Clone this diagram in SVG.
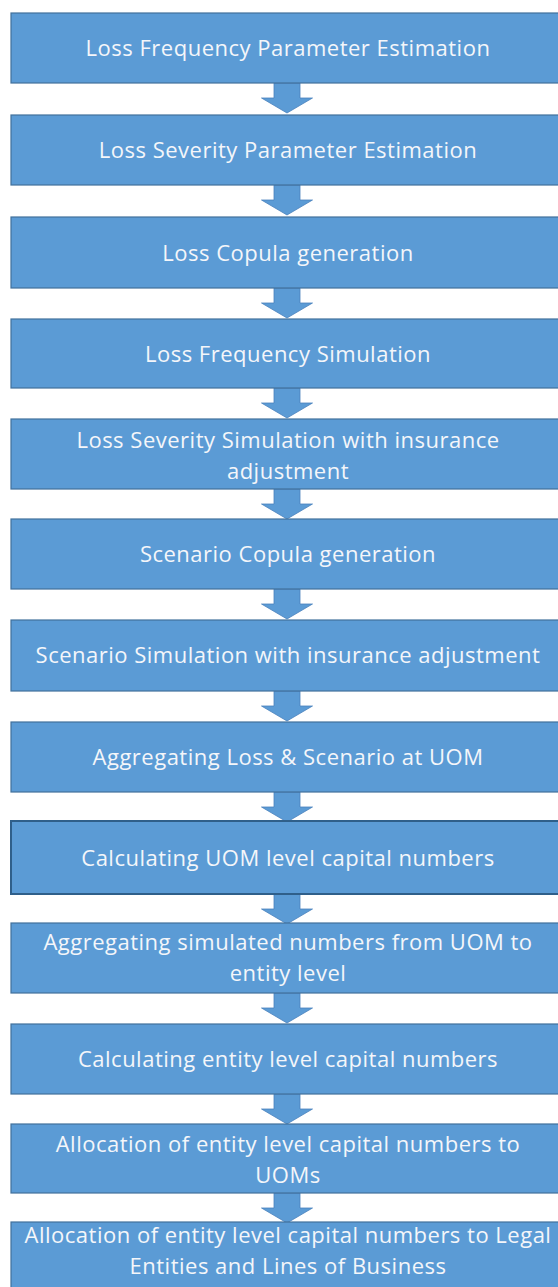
<svg xmlns="http://www.w3.org/2000/svg" width="558" height="1287" viewBox="0 0 558 1287">
<style>
.box{fill:#5B9BD5;stroke:#41719C;stroke-width:1.2}
.box2{fill:#5B9BD5;stroke:#2F5F8A;stroke-width:2}
.arr{fill:#5B9BD5;stroke:#4A82BC;stroke-width:0.8}
text{font-family:"Open Sans","Liberation Sans",sans-serif;font-size:22px;letter-spacing:0.5px;fill:#F4F6FA;text-anchor:middle}
</style>
<rect width="558" height="1287" fill="#ffffff"/>
<defs>
<path id="a" d="M-13,0 H13 V15 H25.5 L0,30 L-25.5,15 H-13 Z"/>
</defs>
<g id="connectors">
<use href="#a" class="arr" x="287" y="83"/>
<use href="#a" class="arr" x="287" y="185"/>
<use href="#a" class="arr" x="287" y="288"/>
<use href="#a" class="arr" x="287" y="388"/>
<use href="#a" class="arr" x="287" y="489"/>
<use href="#a" class="arr" x="287" y="589"/>
<use href="#a" class="arr" x="287" y="691"/>
<use href="#a" class="arr" x="287" y="792"/>
<use href="#a" class="arr" x="287" y="894"/>
<use href="#a" class="arr" x="287" y="993"/>
<use href="#a" class="arr" x="287" y="1094"/>
<use href="#a" class="arr" x="287" y="1193"/>
</g>
<g id="n1"><rect class="box" x="11" y="13" width="556" height="70"/><text x="288" y="56">Loss Frequency Parameter Estimation</text></g>
<g id="n2"><rect class="box" x="11" y="115" width="556" height="70"/><text x="288" y="158">Loss Severity Parameter Estimation</text></g>
<g id="n3"><rect class="box" x="11" y="217" width="556" height="71"/><text x="288" y="261">Loss Copula generation</text></g>
<g id="n4"><rect class="box" x="11" y="319" width="556" height="69"/><text x="288" y="362">Loss Frequency Simulation</text></g>
<g id="n5"><rect class="box" x="11" y="419" width="556" height="70"/><text x="288" y="448">Loss Severity Simulation with insurance</text><text x="288" y="479">adjustment</text></g>
<g id="n6"><rect class="box" x="11" y="519" width="556" height="70"/><text x="288" y="562">Scenario Copula generation</text></g>
<g id="n7"><rect class="box" x="11" y="620" width="556" height="71"/><text x="288" y="663">Scenario Simulation with insurance adjustment</text></g>
<g id="n8"><rect class="box" x="11" y="722" width="556" height="70"/><text x="288" y="765">Aggregating Loss &amp; Scenario at UOM</text></g>
<g id="n9"><rect class="box2" x="11" y="821" width="556" height="73"/><text x="288" y="866">Calculating UOM level capital numbers</text></g>
<g id="n10"><rect class="box" x="11" y="923" width="556" height="70"/><text x="288" y="950">Aggregating simulated numbers from UOM to</text><text x="288" y="981">entity level</text></g>
<g id="n11"><rect class="box" x="11" y="1024" width="556" height="70"/><text x="288" y="1067">Calculating entity level capital numbers</text></g>
<g id="n12"><rect class="box" x="11" y="1124" width="556" height="69"/><text x="288" y="1152">Allocation of entity level capital numbers to</text><text x="288" y="1183">UOMs</text></g>
<g id="n13"><rect class="box" x="11" y="1222" width="556" height="72"/><text x="288" y="1243">Allocation of entity level capital numbers to Legal</text><text x="288" y="1274">Entities and Lines of Business</text></g>
</svg>
